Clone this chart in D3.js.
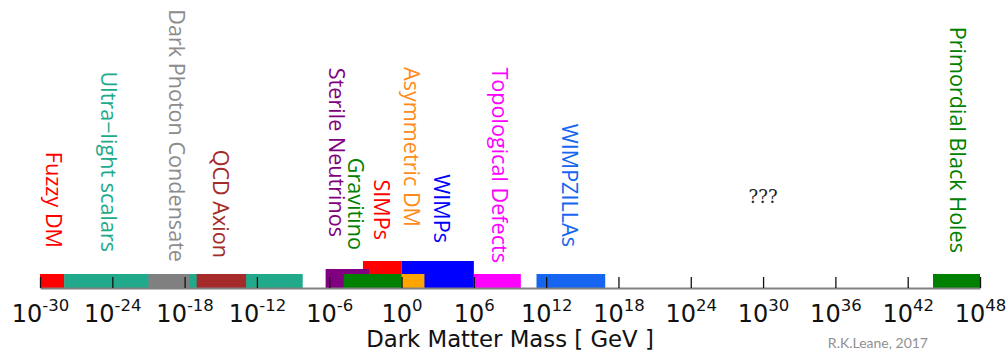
<!DOCTYPE html>
<html>
<head>
<meta charset="utf-8">
<script src="https://cdn.jsdelivr.net/npm/d3@7"></script>
<style>
  body { margin: 0; background: #fff; }
  svg { display: block; }
  .candLabel { font-family: "Open Sans", sans-serif; font-size: 21.6px; }
  .tickText { font-family: "DejaVu Sans", sans-serif; }
</style>
</head>
<body>
<div id="chart"></div>
<script>
// dark matter candidates, mass ranges given as log10(mass / GeV)
const candidates = ["Ultra\u2212light scalars", "Fuzzy DM", "Dark Photon Condensate", "QCD Axion",
    "SIMPs", "Sterile Neutrinos", "Gravitino", "WIMPs", "Asymmetric DM",
    "Topological Defects", "WIMPZILLAs", "Primordial Black Holes"];
const logMassLow  = [-28, -30, -21, -17, -3.2, -6.3, -4.8, 0, 0, 6, 11.2, 44.1];
const logMassHigh = [-8.2, -28, -17.6, -12.9, 0, -2.7, 0, 6, 1.9, 9.9, 16.9, 48];
// where each name sits along the mass axis
const labelLogMass = [-24.2, -28.8, -18.6, -14.9, -1.6, -5.35, -3.7, 3.4, 0.95, 8.2, 14.0, 46.2];
const tickExponents = [-30, -24, -18, -12, -6, 0, 6, 12, 18, 24, 30, 36, 42, 48];

const colors = {
    "Ultra\u2212light scalars": "#21a98c",
    "Fuzzy DM": "#ff0000",
    "Dark Photon Condensate": "#808080",
    "QCD Axion": "#a52a2a",
    "SIMPs": "#ff0000",
    "Sterile Neutrinos": "#800080",
    "Gravitino": "#008000",
    "WIMPs": "#0000ff",
    "Asymmetric DM": "#ffa500",
    "Topological Defects": "#ff00ff",
    "WIMPZILLAs": "#1565f0",
    "Primordial Black Holes": "#008000"
};
const labelColors = Object.assign({}, colors, {"Asymmetric DM": "#ff8c1a", "Dark Photon Condensate": "#8c8c8c"});
// bar heights (px above axis) and label bottom ends (px)
const barHeight = {"SIMPs": 27, "WIMPs": 27, "Sterile Neutrinos": 19};
const labelEndY = {
    "Fuzzy DM": 248, "Ultra\u2212light scalars": 252, "Dark Photon Condensate": 262, "QCD Axion": 258,
    "Sterile Neutrinos": 237, "Gravitino": 250, "SIMPs": 240, "Asymmetric DM": 227, "WIMPs": 243,
    "Topological Defects": 263, "WIMPZILLAs": 247, "Primordial Black Holes": 253
};

const width = 1008, height = 356;
const axisY = 288;

const svg = d3.select("#chart").append("svg")
    .attr("width", width)
    .attr("height", height);
svg.append("rect").attr("width", width).attr("height", height).attr("fill", "#fff");

const x = d3.scaleLog()
    .domain([1e-30, 1e48])
    .range([40, 980]);

const rows = candidates.map((name, i) => ({
    name: name, lo: Math.pow(10, logMassLow[i]), hi: Math.pow(10, logMassHigh[i]),
    at: Math.pow(10, labelLogMass[i])
}));

// bars
svg.append("g").selectAll("rect")
    .data(rows)
    .join("rect")
    .attr("x", d => x(d.lo))
    .attr("width", d => x(d.hi) - x(d.lo))
    .attr("y", d => axisY - (barHeight[d.name] || 14))
    .attr("height", d => barHeight[d.name] || 14)
    .attr("fill", d => colors[d.name]);

// axis: ticks point up into the bars
const axis = d3.axisBottom(x)
    .tickValues(tickExponents.map(e => Math.pow(10, e)))
    .tickSizeInner(-11)
    .tickSizeOuter(0)
    .tickPadding(17);

const axisG = svg.append("g")
    .attr("transform", `translate(0,${axisY})`)
    .call(axis);
axisG.select(".domain").attr("stroke", "#808080").attr("stroke-width", 2);
axisG.selectAll(".tick line").attr("stroke", "#111").attr("stroke-width", 1.3);
axisG.selectAll(".tick text")
    .attr("class", "tickText")
    .attr("fill", "#111")
    .attr("font-size", 24)
    .each(function(d, i) {
        let t = d3.select(this).text(null);
        t.append("tspan").text("10");
        t.append("tspan").attr("dy", -11).attr("font-size", 16.5).text(tickExponents[i]);
    });

// axis title
svg.append("text")
    .attr("x", 510)
    .attr("y", 347)
    .attr("text-anchor", "middle")
    .attr("font-family", "DejaVu Sans, sans-serif")
    .attr("font-size", 22.8)
    .attr("fill", "#111")
    .text("Dark Matter Mass [ GeV ]");

// candidate names, reading downwards
svg.append("g").selectAll("text")
    .data(rows)
    .join("text")
    .attr("class", "candLabel")
    .attr("transform", d => `translate(${x(d.at)},${labelEndY[d.name]}) rotate(90)`)
    .attr("text-anchor", "end")
    .attr("dominant-baseline", "central")
    .attr("fill", d => labelColors[d.name])
    .text(d => d.name);

svg.append("text")
    .attr("x", x(1e30))
    .attr("y", 203)
    .attr("text-anchor", "middle")
    .attr("font-family", "DejaVu Serif, serif")
    .attr("font-size", 18)
    .attr("fill", "#222")
    .text("???");

svg.append("text")
    .attr("x", 928)
    .attr("y", 348)
    .attr("text-anchor", "end")
    .attr("font-family", "Lato, sans-serif")
    .attr("font-size", 14)
    .attr("fill", "#909090")
    .text("R.K.Leane, 2017");
</script>
</body>
</html>
